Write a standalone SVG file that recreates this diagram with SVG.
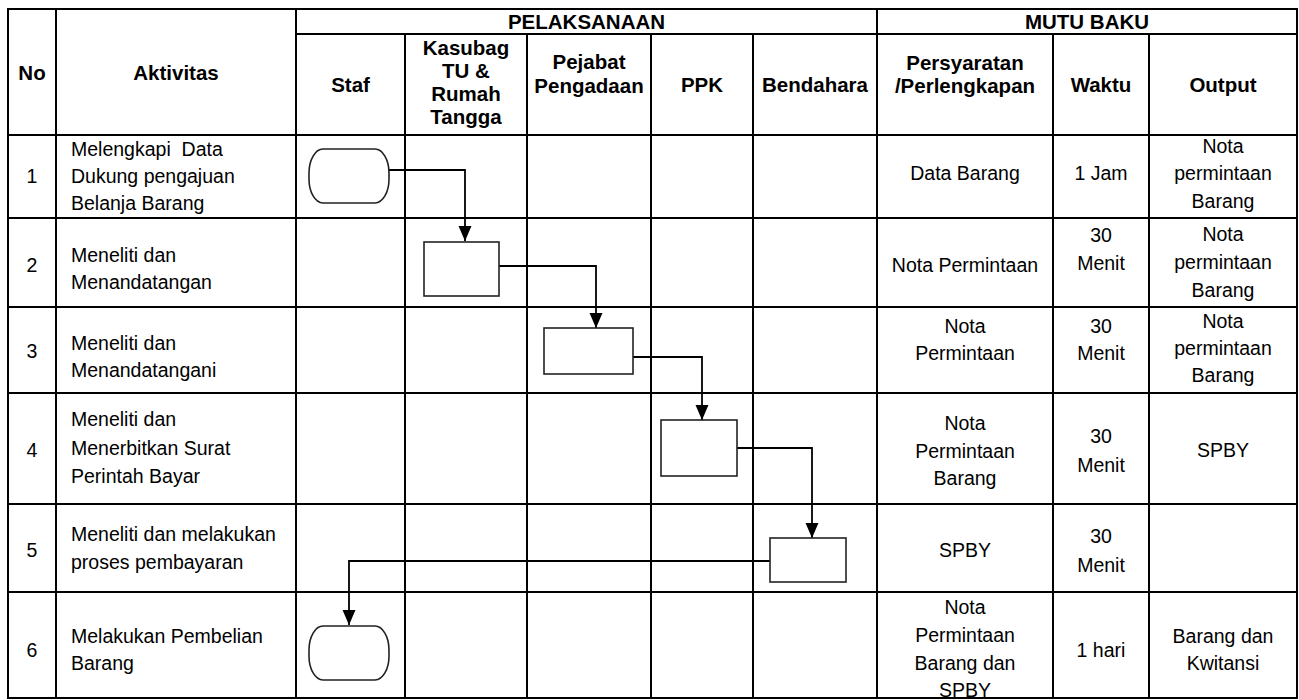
<svg xmlns="http://www.w3.org/2000/svg" width="1299" height="700" viewBox="0 0 1299 700">
<style>
.g{stroke:#000;stroke-width:2;fill:none;stroke-linecap:square}
.h{font-family:"Liberation Sans",Arial,sans-serif;font-weight:bold;font-size:20.5px;fill:#000;text-anchor:middle}
.t{font-family:"Liberation Sans",Arial,sans-serif;font-size:19.5px;fill:#000}
.c{text-anchor:middle}
.n{fill:#fff;stroke:#222;stroke-width:1.6}
.k{fill:none;stroke:#000;stroke-width:1.8}
</style>
<defs>
<marker id="ah" markerUnits="userSpaceOnUse" markerWidth="15" markerHeight="14" refX="15" refY="6.5" orient="auto">
<path d="M0,0 L15,6.5 L0,13 z" fill="#000"/>
</marker>
</defs>
<rect x="0" y="0" width="1299" height="700" fill="#fff"/>
<g id="grid" class="g">
<rect x="8" y="9" width="1289" height="689"/>
<line x1="296" y1="34" x2="1297" y2="34"/>
<line x1="8" y1="135" x2="1297" y2="135"/>
<line x1="8" y1="218" x2="1297" y2="218"/>
<line x1="8" y1="307" x2="1297" y2="307"/>
<line x1="8" y1="393" x2="1297" y2="393"/>
<line x1="8" y1="504" x2="1297" y2="504"/>
<line x1="8" y1="592" x2="1297" y2="592"/>
<line x1="56" y1="9" x2="56" y2="698"/>
<line x1="296" y1="9" x2="296" y2="698"/>
<line x1="405" y1="34" x2="405" y2="698"/>
<line x1="527" y1="34" x2="527" y2="698"/>
<line x1="651" y1="34" x2="651" y2="698"/>
<line x1="753" y1="34" x2="753" y2="698"/>
<line x1="877" y1="9" x2="877" y2="698"/>
<line x1="1053" y1="34" x2="1053" y2="698"/>
<line x1="1149" y1="34" x2="1149" y2="698"/>
</g>
<g id="header" class="h">
<text x="32" y="79.5">No</text>
<text x="176" y="79.5">Aktivitas</text>
<text x="586.5" y="28.5">PELAKSANAAN</text>
<text x="1087" y="28.5">MUTU BAKU</text>
<text x="350.5" y="92">Staf</text>
<text x="466" y="55">Kasubag</text>
<text x="466" y="78">TU &amp;</text>
<text x="466" y="101">Rumah</text>
<text x="466" y="124">Tangga</text>
<text x="589" y="69">Pejabat</text>
<text x="589" y="93">Pengadaan</text>
<text x="702" y="92">PPK</text>
<text x="815" y="92">Bendahara</text>
<text x="965" y="70">Persyaratan</text>
<text x="965" y="93">/Perlengkapan</text>
<text x="1101" y="92">Waktu</text>
<text x="1223" y="92">Output</text>
</g>
<g id="col-no" class="t c">
<text x="32" y="183">1</text>
<text x="32" y="272">2</text>
<text x="32" y="358">3</text>
<text x="32" y="457">4</text>
<text x="32" y="557">5</text>
<text x="32" y="657">6</text>
</g>
<g id="col-aktivitas" class="t">
<text x="71" y="156" xml:space="preserve">Melengkapi  Data</text>
<text x="71" y="183">Dukung pengajuan</text>
<text x="71" y="210">Belanja Barang</text>
<text x="71" y="262">Meneliti dan</text>
<text x="71" y="289">Menandatangan</text>
<text x="71" y="350">Meneliti dan</text>
<text x="71" y="377">Menandatangani</text>
<text x="71" y="426">Meneliti dan</text>
<text x="71" y="455">Menerbitkan Surat</text>
<text x="71" y="483">Perintah Bayar</text>
<text x="71" y="541">Meneliti dan melakukan</text>
<text x="71" y="569">proses pembayaran</text>
<text x="71" y="643">Melakukan Pembelian</text>
<text x="71" y="670">Barang</text>
</g>
<g id="col-persyaratan" class="t c">
<text x="965" y="180">Data Barang</text>
<text x="965" y="272">Nota Permintaan</text>
<text x="965" y="333">Nota</text>
<text x="965" y="360">Permintaan</text>
<text x="965" y="430">Nota</text>
<text x="965" y="458">Permintaan</text>
<text x="965" y="485">Barang</text>
<text x="965" y="557">SPBY</text>
<text x="965" y="614">Nota</text>
<text x="965" y="642">Permintaan</text>
<text x="965" y="670">Barang dan</text>
<text x="965" y="697">SPBY</text>
</g>
<g id="col-waktu" class="t c">
<text x="1101" y="180">1 Jam</text>
<text x="1101" y="242">30</text>
<text x="1101" y="270">Menit</text>
<text x="1101" y="333">30</text>
<text x="1101" y="360">Menit</text>
<text x="1101" y="443">30</text>
<text x="1101" y="472">Menit</text>
<text x="1101" y="543">30</text>
<text x="1101" y="572">Menit</text>
<text x="1101" y="657">1 hari</text>
</g>
<g id="col-output" class="t c">
<text x="1223" y="153">Nota</text>
<text x="1223" y="180">permintaan</text>
<text x="1223" y="208">Barang</text>
<text x="1223" y="241">Nota</text>
<text x="1223" y="269">permintaan</text>
<text x="1223" y="297">Barang</text>
<text x="1223" y="328">Nota</text>
<text x="1223" y="355">permintaan</text>
<text x="1223" y="382">Barang</text>
<text x="1223" y="457">SPBY</text>
<text x="1223" y="643">Barang dan</text>
<text x="1223" y="670">Kwitansi</text>
</g>
<g id="connectors">
<path class="k" d="M389,170 H465 V241" marker-end="url(#ah)"/>
<path class="k" d="M499,266 H596 V328" marker-end="url(#ah)"/>
<path class="k" d="M633,357 H702 V420" marker-end="url(#ah)"/>
<path class="k" d="M737,448 H812 V538" marker-end="url(#ah)"/>
<path class="k" d="M770,561 H349 V625" marker-end="url(#ah)"/>
</g>
<g id="node-start"><rect class="n" x="309" y="149" width="80" height="54" rx="14" ry="24"/></g>
<g id="node-kasubag"><rect class="n" x="424" y="242" width="75" height="54"/></g>
<g id="node-pejabat"><rect class="n" x="544" y="328" width="89" height="46"/></g>
<g id="node-ppk"><rect class="n" x="661" y="420" width="76" height="56"/></g>
<g id="node-bendahara"><rect class="n" x="770" y="538" width="76" height="44"/></g>
<g id="node-end"><rect class="n" x="309" y="626" width="80" height="54" rx="14" ry="24"/></g>
</svg>
